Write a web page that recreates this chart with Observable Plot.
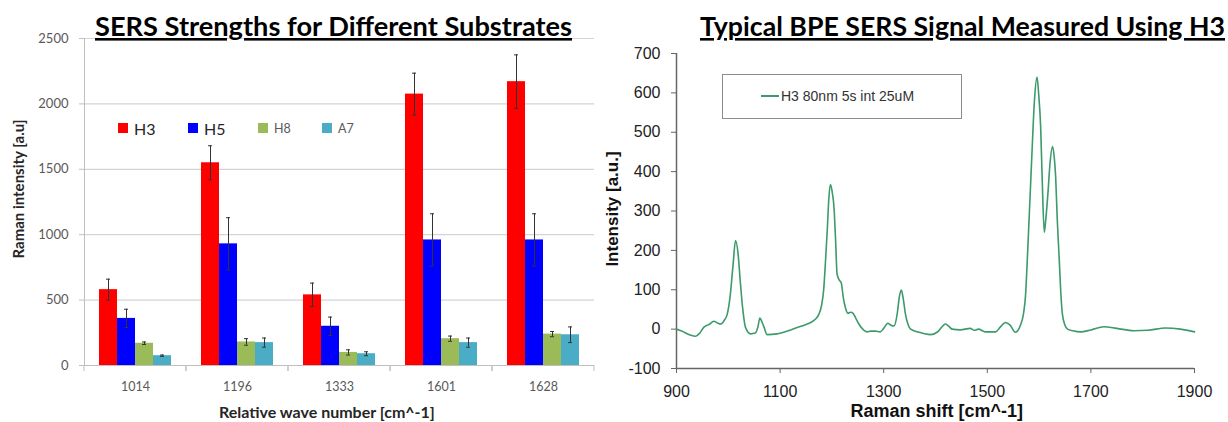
<!DOCTYPE html>
<html><head><meta charset="utf-8">
<script src="https://cdn.jsdelivr.net/npm/d3@7"></script>
<script src="https://cdn.jsdelivr.net/npm/@observablehq/plot@0.6"></script>
<style>
body{margin:0;background:#fff;}
#wrap{position:relative;width:1228px;height:422px;overflow:hidden;background:#fff}
.abs{position:absolute;white-space:nowrap}
.leg{position:absolute;display:flex;align-items:center;height:16px}
.sw{width:10px;height:10px;margin-right:6px}
</style></head><body><div id="wrap"></div>
<script>
// ---------- Left chart data ----------
const categories = ["1014","1196","1333","1601","1628"];
const substrates = ["H3","H5","H8","A7"];
const substrateColors = ["#ff0000","#0000ff","#9bbb59","#4bacc6"];
const h3Values = [580,1550,540,2075,2170];
const h3Errors = [80,130,90,160,205];
const h5Values = [360,930,300,960,960];
const h5Errors = [70,200,70,200,200];
const h8Values = [170,180,100,205,240];
const h8Errors = [10,25,20,20,20];
const a7Values = [75,175,90,175,235];
const a7Errors = [5,35,15,35,60];
const leftYTicks = [0,500,1000,1500,2000,2500];

// ---------- Right chart data ----------
const ramanShift = [900,910,925,937,945,953,963,972,980,985,992,998,1004,1009,1014,1019,1023,1028,1033,1043,1052,1057,1061,1065,1069,1075,1094,1114,1133,1150,1159,1168,1175,1180,1184,1188,1191,1194,1197,1201,1204,1207,1210,1214,1218,1222,1226,1231,1236,1241,1246,1252,1262,1268,1275,1284,1293,1300,1308,1314,1320,1326,1330,1334,1338,1342,1347,1352,1368,1390,1403,1412,1419,1425,1432,1448,1467,1475,1483,1496,1516,1525,1535,1544,1554,1564,1570,1574,1577,1580,1584,1587,1591,1596,1599,1603,1606,1610,1613,1617,1621,1626,1629,1632,1635,1639,1642,1645,1650,1655,1665,1680,1700,1725,1750,1783,1810,1844,1873,1900];
const intensity  = [0,-5,-14,-18,-10,5,12,20,15,13,22,38,89,160,225,190,123,50,5,-12,-10,5,28,18,5,-14,-12,-5,4,12,17,25,38,60,98,180,250,330,367,345,310,230,140,125,118,80,55,40,43,40,28,13,-3,-7,-5,-5,-7,2,15,10,8,38,80,99,75,38,12,0,-8,-14,-8,5,13,8,0,-2,2,-3,0,-7,-7,5,17,10,-8,10,40,89,170,259,380,471,580,640,600,513,380,246,280,344,420,464,440,386,280,174,90,38,10,0,-4,-7,-2,6,2,-4,-3,3,0,-7];
const rightYTicks = [-100,0,100,200,300,400,500,600,700];
const rightXTicks = [900,1100,1300,1500,1700,1900];
const seriesLabel = "H3 80nm 5s int 25uM";

const wrap = document.getElementById("wrap");
const plain = d => String(d);

// ---------- Left chart ----------
const valueSets = [h3Values,h5Values,h8Values,a7Values];
const errorSets = [h3Errors,h5Errors,h8Errors,a7Errors];
const barRows = [];
categories.forEach((c, i) => substrates.forEach((s, k) => {
  barRows.push({cat: c, sub: s, value: valueSets[k][i], err: errorSets[k][i]});
}));

function categoryTicks(index, scales, values, dimensions) {
  const x = scales.x, y0 = scales.y(0);
  const step = x.step(), po = x.paddingOuter();
  const left = x(substrates[0]) - step * po;
  const right = x(substrates[substrates.length - 1]) + x.bandwidth() + step * po;
  return d3.create("svg:path")
    .attr("d", `M${left},${y0}v6M${right},${y0}v6`)
    .attr("stroke", "#bfbfbf").attr("fill", "none").node();
}

const left = Plot.plot({
  width: 600, height: 422,
  marginLeft: 84, marginRight: 6, marginTop: 38, marginBottom: 57,
  style: {fontFamily: "Lato, 'Open Sans', sans-serif", fontSize: "13px", color: "#595959", background: "transparent"},
  fx: {domain: categories, padding: 0, label: null},
  x: {domain: substrates, paddingInner: 0, paddingOuter: 0.833, axis: null},
  y: {domain: [0, 2500]},
  color: {domain: substrates, range: substrateColors},
  marks: [
    Plot.gridY(leftYTicks, {stroke: "#d4d4d4", strokeOpacity: 1, strokeWidth: 1.2}),
    Plot.axisY(leftYTicks, {tickSize: 5, tickPadding: 11, stroke: "#bfbfbf", label: null, fontSize: 13, tickFormat: plain}),
    Plot.frame({anchor: "left", facetAnchor: "left", stroke: "#bfbfbf"}),
    Plot.barY(barRows, {fx: "cat", x: "sub", y: "value", fill: "sub"}),
    Plot.ruleY([0], {stroke: "#bfbfbf", strokeWidth: 1.2}),
    categoryTicks,
    Plot.ruleX(barRows, {fx: "cat", x: "sub", y1: d => d.value - d.err, y2: d => d.value + d.err, stroke: "#333", strokeWidth: 1}),
    Plot.tickY(barRows, {fx: "cat", x: "sub", y: d => d.value - d.err, insetLeft: 7, insetRight: 7, stroke: "#333", strokeWidth: 1}),
    Plot.tickY(barRows, {fx: "cat", x: "sub", y: d => d.value + d.err, insetLeft: 7, insetRight: 7, stroke: "#333", strokeWidth: 1}),
    Plot.axisFx({anchor: "bottom", tickSize: 0, tickPadding: 17, label: null, fontSize: 12.5})
  ]
});
left.style.position = "absolute"; left.style.left = "0px"; left.style.top = "0px";
wrap.appendChild(left);

// ---------- Right chart ----------
const spectrum = ramanShift.map((x, i) => ({x, y: intensity[i]}));
const right = Plot.plot({
  width: 628, height: 422,
  marginLeft: 76, marginRight: 34, marginTop: 53, marginBottom: 54,
  style: {fontFamily: "'Liberation Sans', Arial, sans-serif", fontSize: "16px", color: "#222", background: "transparent"},
  x: {domain: [900, 1900]},
  y: {domain: [-100, 700]},
  marks: [
    Plot.axisY(rightYTicks, {tickSize: 5, tickPadding: 11, stroke: "#666", label: null, tickFormat: plain}),
    Plot.axisX(rightXTicks, {tickSize: 5, tickPadding: 12, stroke: "#666", label: null, tickFormat: plain}),
    Plot.ruleX([900], {stroke: "#666", strokeWidth: 1.5}),
    Plot.ruleY([-100], {stroke: "#666", strokeWidth: 1.5}),
    Plot.line(spectrum, {x: "x", y: "y", stroke: "#3c9a6c", strokeWidth: 1.6, curve: "monotone-x"})
  ]
});
right.style.position = "absolute"; right.style.left = "600px"; right.style.top = "0px";
wrap.appendChild(right);

// ---------- Titles ----------
const titleSvg = d3.create("svg").attr("width", 1228).attr("height", 50)
  .style("position", "absolute").style("left", "0px").style("top", "0px");
[["SERS Strengths for Different Substrates", 95, 477], ["Typical BPE SERS Signal Measured Using H3", 700, 525]].forEach(([t, x, w]) => {
  titleSvg.append("text").attr("x", x).attr("y", 36).attr("textLength", w).attr("lengthAdjust", "spacingAndGlyphs")
    .attr("font-family", "Lato, 'Open Sans', sans-serif").attr("font-weight", "bold").attr("font-size", 26)
    .attr("fill", "#000").style("text-decoration", "underline").text(t);
});
wrap.appendChild(titleSvg.node());

// ---------- Axis titles ----------
function addText(txt, css) {
  const d = document.createElement("div");
  d.className = "abs"; d.textContent = txt;
  Object.assign(d.style, css);
  wrap.appendChild(d);
  return d;
}
const lx = addText("Relative wave number [cm^-1]", {font: "bold 16px Lato, sans-serif", color: "#262626"});
lx.style.left = (327 - lx.offsetWidth / 2) + "px"; lx.style.top = (411 - lx.offsetHeight / 2) + "px";
const ly = addText("Raman intensity [a.u]", {font: "bold 15px Lato, sans-serif", color: "#262626"});
ly.style.left = (18 - ly.offsetWidth / 2) + "px"; ly.style.top = (189 - ly.offsetHeight / 2) + "px"; ly.style.transform = "rotate(-90deg)";
const rx = addText("Raman shift [cm^-1]", {font: "bold 18px 'Liberation Sans', Arial, sans-serif", color: "#111"});
rx.style.left = (937 - rx.offsetWidth / 2) + "px"; rx.style.top = (411 - rx.offsetHeight / 2) + "px";
const ry = addText("Intensity [a.u.]", {font: "bold 17px 'Liberation Sans', Arial, sans-serif", color: "#111"});
ry.style.left = (612 - ry.offsetWidth / 2) + "px"; ry.style.top = (209 - ry.offsetHeight / 2) + "px"; ry.style.transform = "rotate(-90deg)";

// ---------- Left legend ----------
const legendLeft = [118, 188, 258, 322];
const legendFont = ["16px", "16px", "12.5px", "12.5px"];
const legendColor = ["#262626", "#262626", "#595959", "#595959"];
substrates.forEach((s, k) => {
  const item = document.createElement("div");
  item.className = "leg";
  item.style.left = legendLeft[k] + "px"; item.style.top = "120px";
  item.innerHTML = `<div class="sw" style="background:${substrateColors[k]}"></div><span style="font:${legendFont[k]} Lato, sans-serif;color:${legendColor[k]}">${s}</span>`;
  wrap.appendChild(item);
});

// ---------- Right legend ----------
const box = document.createElement("div");
Object.assign(box.style, {position: "absolute", left: "722px", top: "74px", width: "238px", height: "43px", border: "1.5px solid #8c8c8c", boxSizing: "content-box"});
box.innerHTML = `<div style="position:absolute;left:38px;top:13px;height:16px;display:flex;align-items:center;white-space:nowrap"><div style="width:18px;height:1.6px;background:#3c9a6c;margin-right:2px"></div><span style="font:14px 'Liberation Sans', Arial, sans-serif;color:#333;line-height:16px">${seriesLabel}</span></div>`;
wrap.appendChild(box);
</script></body></html>
